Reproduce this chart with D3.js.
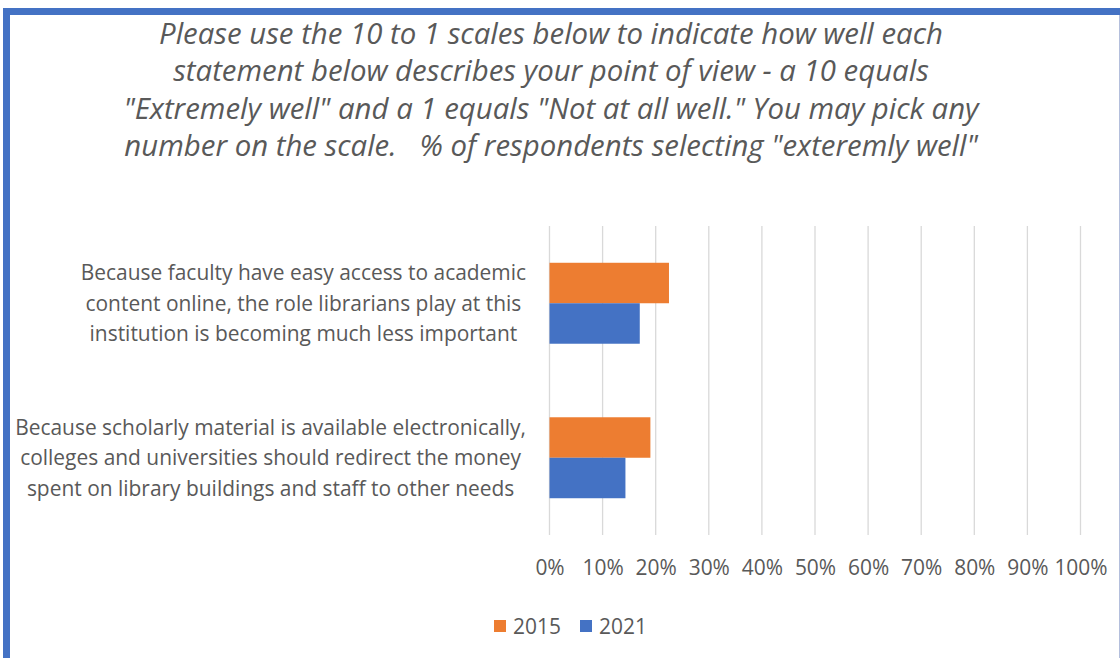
<!DOCTYPE html>
<html>
<head>
<meta charset="utf-8">
<script src="https://cdn.jsdelivr.net/npm/d3@7"></script>
<style>
  html, body { margin: 0; padding: 0; background: #fff; }
  svg { display: block; }
  text { font-family: "Open Sans", "DejaVu Sans", sans-serif; fill: #595959; }
</style>
</head>
<body>
<svg id="chart" width="1120" height="658"></svg>
<script>
const titleLines = [
  "Please use the 10 to 1 scales below to indicate how well each",
  "statement below describes your point of view - a 10 equals",
  "\"Extremely well\" and a 1 equals \"Not at all well.\" You may pick any",
  "number on the scale.   % of respondents selecting \"exteremly well\""
];
const categories = [
  ["Because faculty have easy access to academic",
   "content online, the role librarians play at this",
   "institution is becoming much less important"],
  ["Because scholarly material is available electronically,",
   "colleges and universities should redirect the money",
   "spent on library buildings and staff to other needs"]
];
const seriesNames = ["2015", "2021"];
const seriesColors = ["#ED7D31", "#4472C4"];
const values2015 = [0.225, 0.19];
const values2021 = [0.17, 0.143];
const xTicks = [0, 0.1, 0.2, 0.3, 0.4, 0.5, 0.6, 0.7, 0.8, 0.9, 1.0];

const svg = d3.select("#chart");
const W = 1120, H = 658;

// frame
svg.append("rect").attr("x", 0).attr("y", 0).attr("width", W).attr("height", H).attr("fill", "#fff");
svg.append("line").attr("x1", 1119.5).attr("x2", 1119.5).attr("y1", 12).attr("y2", H)
  .attr("stroke", "#b4bfdc").attr("stroke-width", 1);
svg.append("rect").attr("x", 3).attr("y", 8).attr("width", W - 3).attr("height", 7).attr("fill", "#4472C4");
svg.append("rect").attr("x", 3).attr("y", 8).attr("width", 7).attr("height", H).attr("fill", "#4472C4");

function fitSize(lines, style, targetW, baseSize) {
  const t = svg.append("text").attr("font-size", baseSize).style("font-style", style);
  let maxW = 0;
  lines.forEach(l => { t.text(l); maxW = Math.max(maxW, t.node().getComputedTextLength()); });
  t.remove();
  return baseSize * targetW / maxW;
}

// title
const titleSize = fitSize([titleLines[0]], "italic", 784, 24);
const titleG = svg.append("g");
titleLines.forEach((l, i) => {
  titleG.append("text")
    .attr("x", 551).attr("y", 43.5 + i * 37.5)
    .attr("text-anchor", "middle")
    .attr("font-size", titleSize)
    .style("font-style", "italic")
    .style("white-space", "pre")
    .attr("xml:space", "preserve")
    .text(l);
});

// plot area
const x0 = 549.5, x1 = 1080.5, yTop = 226, yBot = 535;
const x = d3.scaleLinear().domain([0, 1]).range([x0, x1]);
const y = d3.scaleBand().domain(d3.range(categories.length)).range([yTop, yBot]).paddingInner(0.476).paddingOuter(0.238);
const ys = d3.scaleBand().domain(seriesNames).range([0, y.bandwidth()]);

svg.append("g").selectAll("line").data(xTicks).join("line")
  .attr("x1", d => x(d)).attr("x2", d => x(d))
  .attr("y1", yTop).attr("y2", yBot)
  .attr("stroke", "#d9d9d9").attr("stroke-width", 1.3);

const labelSize = fitSize(categories.flat(), "normal", 511, 19);

const series = [values2015, values2021];
series.forEach((vals, si) => {
  svg.append("g").selectAll("rect").data(vals).join("rect")
    .attr("x", x(0))
    .attr("y", (d, i) => y(i) + ys(seriesNames[si]))
    .attr("width", d => x(d) - x(0))
    .attr("height", ys.bandwidth())
    .attr("fill", seriesColors[si]);
});

// category labels: lines centered within a block right-aligned at 526
categories.forEach((lines, ci) => {
  const g = svg.append("g");
  const texts = lines.map((l, li) => g.append("text")
    .attr("font-size", labelSize)
    .attr("text-anchor", "middle")
    .attr("y", y(ci) + y.bandwidth() / 2 + (li - 1) * 30.5)
    .attr("dy", "0.36em")
    .text(l));
  const widths = texts.map(t => t.node().getComputedTextLength());
  const bw = d3.max(widths);
  const cx = 526 - bw / 2;
  texts.forEach(t => t.attr("x", cx));
});

// x axis tick labels
const axis = d3.axisBottom(x).tickValues(xTicks).tickFormat(d3.format(".0%")).tickSize(0).tickPadding(0);
const axG = svg.append("g").attr("transform", `translate(0,${yBot + 32})`).call(axis);
axG.select(".domain").remove();
axG.selectAll("text").attr("font-size", labelSize).attr("dy", "0.36em").attr("fill", "#595959")
  .style("font-family", '"Open Sans", "DejaVu Sans", sans-serif');

// legend
const legX = [494, 580];
const leg = svg.append("g");
seriesNames.forEach((n, i) => {
  leg.append("rect").attr("x", legX[i]).attr("y", 620).attr("width", 12).attr("height", 12).attr("fill", seriesColors[i]);
  leg.append("text").attr("x", legX[i] + 19).attr("y", 626).attr("dy", "0.36em")
    .attr("font-size", labelSize).text(n);
});
</script>
</body>
</html>
